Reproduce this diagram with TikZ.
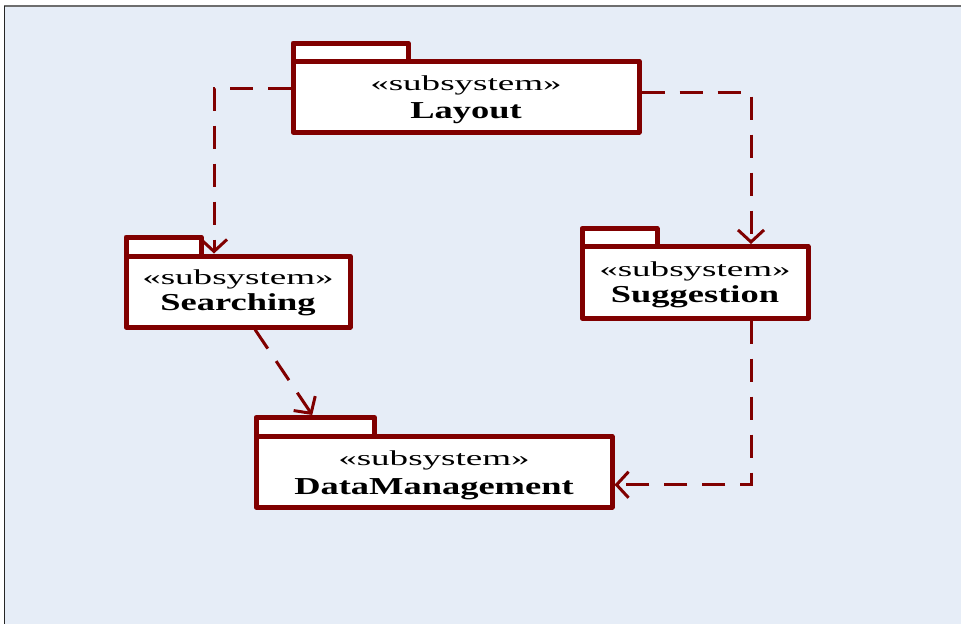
\documentclass[tikz,border=0pt]{standalone}
\usepackage{fontspec}
\setmainfont{Liberation Serif}
\newfontfamily\stereofont{Liberation Serif}[FakeStretch=1.74]
\newfontfamily\namefont{Liberation Serif}[FakeStretch=1.5]
\usetikzlibrary{arrows.meta}
\definecolor{maroonline}{HTML}{800000}
\definecolor{bgblue}{HTML}{E6EDF7}
\definecolor{framegray}{HTML}{6E6E6E}
\tikzset{
  pkgpart/.style={draw=maroonline, fill=white, line width=5pt, line join=round,
    rectangle, inner sep=0pt},
  stereo/.style={anchor=base, inner sep=0pt, font=\stereofont\fontsize{21.3}{22}\selectfont},
  pkgname/.style={anchor=base, inner sep=0pt, font=\namefont\bfseries\fontsize{24.3}{25}\selectfont},
  dep/.style={draw=maroonline, line width=3pt, dash pattern=on 23pt off 15pt,
    -{Straight Barb[length=12pt,width=26pt]}}
}
\begin{document}
\begin{tikzpicture}[x=1pt,y=-1pt]
\useasboundingbox (0,0) rectangle (961,624);
\fill[white] (0,0) rectangle (961,624);
\fill[bgblue] (4,6) rectangle (961,624);
\draw[framegray, line width=1.5pt] (4,6) -- (961,6);
\draw[black!85, line width=1pt] (4,6) -- (4,624);

% Layout
\node[pkgpart, minimum width=115pt, minimum height=18pt] (laytab) at (350.5,52) {};
\node[pkgpart, minimum width=346pt, minimum height=71pt] (lay) at (466,96.5) {};
\node[stereo] (laystereo) at (466,90) {«subsystem»};
\node[pkgname] (layname) at (466,118) {Layout};

% Searching
\node[pkgpart, minimum width=75pt, minimum height=19pt] (srchtab) at (163.5,246.5) {};
\node[pkgpart, minimum width=224pt, minimum height=71pt] (srch) at (238,291.5) {};
\node[stereo] (srchstereo) at (238,284) {«subsystem»};
\node[pkgname] (srchname) at (238,310) {Searching};

% Suggestion
\node[pkgpart, minimum width=75pt, minimum height=18pt] (suggtab) at (619.5,237.5) {};
\node[pkgpart, minimum width=226pt, minimum height=71.5pt] (sugg) at (695,282.25) {};
\node[stereo] (suggstereo) at (695,276) {«subsystem»};
\node[pkgname] (suggname) at (695,302) {Suggestion};

% DataManagement
\node[pkgpart, minimum width=118.5pt, minimum height=19pt] (dmtab) at (315.25,427) {};
\node[pkgpart, minimum width=356pt, minimum height=70.5pt] (dm) at (434,471.75) {};
\node[stereo] (dmstereo) at (434,465) {«subsystem»};
\node[pkgname] (dmname) at (434,494) {DataManagement};

% dependencies
\draw[dep] ([yshift=8.5pt]lay.west) -| ([xshift=-24pt]srch.north);
\draw[dep] ([yshift=4.5pt]lay.east) -| ([xshift=56pt]sugg.north);
\draw[dep] ([xshift=17pt]srch.south) -- ([xshift=-3pt]dmtab.north);
\draw[dep] ([xshift=56pt]sugg.south) |- ([yshift=-13pt]dm.east);
\end{tikzpicture}
\end{document}
